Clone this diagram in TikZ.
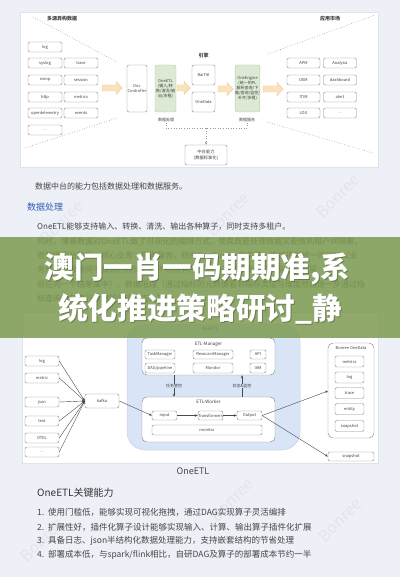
\documentclass[tikz,border=0pt]{standalone}
\usepackage{fontspec}
\setmainfont{Noto Sans CJK SC}
\usetikzlibrary{arrows.meta}
\definecolor{bgc}{HTML}{EEF0F7}
\definecolor{panelb}{HTML}{E0E3EC}
\definecolor{boxc}{HTML}{8C8C8C}
\definecolor{txtc}{HTML}{404040}
\definecolor{gfill}{HTML}{DCE9D4}
\definecolor{gbord}{HTML}{B5CDA8}
\definecolor{arrf}{HTML}{FBE2BF}
\definecolor{arrb}{HTML}{F0C58E}
\definecolor{bluef}{HTML}{D9E4F6}
\definecolor{blueb}{HTML}{C5D3EC}
\definecolor{linec}{HTML}{4A4A4A}
\definecolor{dotc}{HTML}{9A9A9A}
\definecolor{bodyc}{HTML}{454545}
\definecolor{headc}{HTML}{2C5DB3}
\definecolor{bandc}{HTML}{7E9B52}
\definecolor{wmc}{HTML}{E2E5EE}
\newcommand{\myddd}{...}
\newcommand{\fatarr}[3]{\filldraw[draw=arrb, fill=arrf, line width=0.4pt] (#1,#3-3) -- (#2-6,#3-3) -- (#2-6,#3-6.5) -- (#2,#3) -- (#2-6,#3+6.5) -- (#2-6,#3+3) -- (#1,#3+3) -- cycle;}
\newcommand{\titleA}{\resizebox{305pt}{!}{\fontsize{30}{30}\selectfont\bfseries 澳门一肖一码期期准,系}}
\newcommand{\titleB}{\resizebox{284pt}{!}{\fontsize{30}{30}\selectfont\bfseries 统化推进策略研讨\_静}}
\tikzset{
 sbox/.style={draw=boxc, line width=0.45pt, rounded corners=2pt, fill=white, inner sep=0pt, font=\fontsize{4}{5}\selectfont, text=txtc, align=center},
 gbox/.style={sbox, draw=gbord, fill=gfill},
 conn/.style={draw=linec, line width=0.4pt, -{Stealth[length=3pt,width=2.4pt]}},
 dotl/.style={draw=dotc, line width=0.6pt, dotted},
 lbl/.style={inner sep=0.5pt, font=\fontsize{4}{5}\selectfont, text=txtc, align=center},
 body/.style={anchor=west, inner sep=0pt, font=\fontsize{8}{9}\selectfont, text=bodyc},
 wm/.style={font=\fontsize{16}{16}\selectfont, text=wmc, rotate=45},
}
\begin{document}
\begin{tikzpicture}[x=1pt,y=-1pt]
\useasboundingbox (0,0) rectangle (400,577);
\fill[bgc] (0,0) rectangle (400,577);
% watermarks
\node[wm] (w1) at (62,222) {Bonree};
\node[wm] (w2) at (228,214) {Bonree};
\node[wm] (w3) at (338,196) {Bonree};
\node[wm] (w4) at (42,540) {Bonree};
\node[wm] (w5) at (232,500) {Bonree};
\node[wm] (w6) at (340,520) {Bonree};
% ============ top diagram ============
\filldraw[fill=white, draw=panelb, line width=0.5pt] (20,12) rectangle (378,167);
\node[lbl, font=\fontsize{5}{6}\selectfont\bfseries] (srcl) at (62,19) {多源异构数据};
\node[lbl, font=\fontsize{5}{6}\selectfont\bfseries] (appl) at (330,19) {应用市场};
\coordinate (d1a) at (33,17); \coordinate (d1b) at (117,62);
\coordinate (d2a) at (25,148); \coordinate (d2b) at (117,118);
\coordinate (d3a) at (268,54); \coordinate (d3b) at (375,15);
\coordinate (d4a) at (267,122); \coordinate (d4b) at (373,153);
\draw[dotl] (d1a) -- (d1b);
\draw[dotl] (d2a) -- (d2b);
\draw[dotl] (d3a) -- (d3b);
\draw[dotl] (d4a) -- (d4b);
\foreach \n/\t/\x/\y in {s1/log/45/47, s2/syslog/45/63, s3/trace/81/63, s4/snmp/45/80, s5/session/81/80, s6/http/45/97, s7/metrics/81/97, s8/opentelemetry/45/113, s9/events/81/113, s10/\myddd/45/130}
  \node[sbox, minimum width=34, minimum height=10] (\n) at (\x,\y) {\t};
\fatarr{102}{122}{88}
\node[sbox, minimum width=20, minimum height=47] (doc) at (137,88.5) {Doc\\Controller};
\node[gbox, minimum width=21, minimum height=47] (oetl) at (165.5,88.5) {OneETL\\(输入/转\\换/清洗/输\\出/多租)};
\node[lbl] (dpl) at (166,120) {数据处理};
\fatarr{177}{190}{88}
\node[lbl, font=\fontsize{5}{6}\selectfont\bfseries] (engl) at (203.5,56) {引擎};
\node[sbox, minimum width=23, minimum height=20] (bai) at (203.5,75) {BaiTAI};
\node[sbox, minimum width=23, minimum height=20] (odata) at (203.5,102) {OneData};
\fatarr{218}{233}{89}
\node[gbox, minimum width=23, minimum height=47] (oeng) at (247.5,88.5) {OneEngine\\(统一的PL\\解析查询/下\\载/查询/监控/\\补齐/多租)};
\node[lbl] (dsl) at (247,120) {数据服务};
\fatarr{263}{283}{89}
\foreach \n/\t/\x/\y in {a1/APM/303.5/63, a2/Analysis/340/63, a3/DEM/303.5/80, a4/dashboard/340/80, a5/ITIM/303.5/97, a6/alert/340/97, a7/LOG/303.5/113, a8/\myddd/340/113}
  \node[sbox, minimum width=33, minimum height=10] (\n) at (\x,\y) {\t};
\node[sbox, minimum width=42, minimum height=20, font=\fontsize{4.3}{5.5}\selectfont] (zt) at (206,155) {中台能力\\(数据标准化)};
\coordinate (j1) at (166,128); \coordinate (j2) at (247,128); \coordinate (jm) at (206,128);
\draw[dotl] (dpl.south) -- (j1) -- (j2) -- (dsl.south);
\draw[dotl, -{Stealth[length=3pt,width=2.4pt]}] (jm) -- (zt.north);
% ============ body text ============
\node[body] (p1) at (35,186) {数据中台的能力包括数据处理和数据服务。};
\node[body, font=\fontsize{9}{10}\selectfont, text=headc] (h1) at (27,207) {数据处理};
\node[body] (p2) at (37,227) {OneETL能够支持输入、转换、清洗、输出各种算子，同时支持多租户。};
\node[body] (p3) at (37,242) {同时，博睿数据对OneETL做了可视化的编排方式，使其既能处理数据又能做到租户间隔离。};
\node[body] (p4) at (37,256) {而数据中台的另一核心业务：数据服务，则由OneEngine来实现，能够提供统一的PQL（业};
\node[body] (p5) at (37,270) {务代码与数据间不会因为存储介质不同而有所区别，不同数据类型的指标能够呈};
\node[body] (p6) at (37,284) {现在同一个结果集中）、数据治理（通过指标的元数据看到指标类型与维度然后进一步通过指};
\node[body] (p7) at (37,298) {标查询语句进行数据的灵活查询）等。};
% ============ OneETL diagram ============
\filldraw[fill=white, draw=panelb, line width=0.5pt] (22,312) rectangle (378,463);
\foreach \n/\t/\y in {k1/log/361, k2/metric/378, k3/json/402, k4/text/421, k5/OTEL/438, k6/\myddd/452}
  \node[sbox, minimum width=34, minimum height=10] (\n) at (42,\y) {\t};
\node[sbox, minimum width=34, minimum height=14] (kafka) at (102,401) {kafka};
\foreach \n in {k1,k2,k3,k4,k5,k6}
  \draw[conn] (\n.east) -- (kafka.west);
\filldraw[fill=bluef, draw=blueb, line width=0.5pt, rounded corners=18pt] (127,324) rectangle (300,450);
\node[lbl, font=\fontsize{4.5}{5.5}\selectfont] (oel) at (210,329) {OneETL};
\node[sbox, rounded corners=5pt, minimum width=133, minimum height=37] (mgr) at (208.5,356.5) {};
\node[lbl, font=\fontsize{4.5}{5.5}\selectfont] (mgrl) at (208.5,344) {ETL-Manager};
\node[sbox, minimum width=30, minimum height=9] (tm) at (160,354.5) {TaskManager};
\node[sbox, minimum width=40, minimum height=9] (rm) at (213,354.5) {ResourceManager};
\node[sbox, minimum width=16, minimum height=9] (api) at (258,354.5) {API};
\node[sbox, minimum width=30, minimum height=10] (dag) at (160,368) {DAG/pipeline};
\node[sbox, minimum width=40, minimum height=10] (mon) at (213,368) {Monitor};
\node[sbox, minimum width=16, minimum height=10] (iam) at (258,368) {IAM};
\node[sbox, rounded corners=5pt, minimum width=133, minimum height=45] (wrk) at (208.5,419.5) {};
\node[lbl, font=\fontsize{4.5}{5.5}\selectfont] (wrkl) at (208.5,402) {ETL-Worker};
\node[sbox, minimum width=25, minimum height=9] (inp) at (164.5,415.5) {input};
\node[sbox, minimum width=25, minimum height=9] (trf) at (210.5,415.5) {Transformers};
\node[sbox, minimum width=25, minimum height=9] (outp) at (249.5,415.5) {Output};
\node[sbox, minimum width=110, minimum height=10] (wmon) at (207,430) {monitor};
\draw[conn] (inp) -- (trf);
\draw[conn] (trf) -- (outp);
\draw[conn] (mgr.south -| 174,0) -- (wrk.north -| 174,0) node[lbl, fill=bluef, midway] (tl) {任务管控};
\draw[conn] (wrk.north -| 242,0) -- (mgr.south -| 242,0) node[lbl, fill=bluef, midway] (sl) {状态\&监控};
\draw[conn] (kafka.east) -- (inp.west);
\node[sbox, rounded corners=5pt, minimum width=46, minimum height=95] (bod) at (351,390.5) {};
\node[lbl, font=\fontsize{4}{5}\selectfont] (bodl) at (351,348) {Bonree OneData};
\foreach \n/\t/\y in {b1/metrics/361.5, b2/log/377.5, b3/trace/393, b4/entity/409, b5/snapshot/426}
  \node[sbox, minimum width=29, minimum height=11] (\n) at (349.5,\y) {\t};
\node[sbox, minimum width=46, minimum height=9] (snap) at (351,456.5) {snapshot};
\coordinate (bin) at (328,391);
\draw[conn] (outp.east) -- (bin);
\draw[conn] (outp.east) -- (snap.west);
% ============ bottom text ============
\node[inner sep=0, font=\fontsize{9}{10}\selectfont, text=bodyc] (cap) at (193,471) {OneETL};
\node[body, font=\fontsize{10}{11}\selectfont, text=black!80] (h2) at (37,493) {OneETL关键能力};
\node[body, font=\fontsize{8.5}{10}\selectfont] (l1) at (37,512) {1.\ \ 使用门槛低，能够实现可视化拖拽，通过DAG实现算子灵活编排};
\node[body, font=\fontsize{8.5}{10}\selectfont] (l2) at (37,527) {2.\ \ 扩展性好，插件化算子设计能够实现输入、计算、输出算子插件化扩展};
\node[body, font=\fontsize{8.5}{10}\selectfont] (l3) at (37,541) {3.\ \ 具备日志、json半结构化数据处理能力，支持嵌套结构的节省处理};
\node[body, font=\fontsize{8.5}{10}\selectfont] (l4) at (37,555) {4.\ \ 部署成本低，与spark/flink相比，自研DAG及算子的部署成本节约一半};
% ============ overlay band & title ============
\fill[bandc, opacity=0.86] (0,237) rectangle (400,338);
\node[inner sep=0, text=black, opacity=0.25] (t1s) at (198.5,269.8) {\titleA};
\node[inner sep=0, text=black, opacity=0.25] (t2s) at (201,309.8) {\titleB};
\node[inner sep=0, text=white] (t1) at (197.5,269) {\titleA};
\node[inner sep=0, text=white] (t2) at (200,309) {\titleB};
\end{tikzpicture}
\end{document}
